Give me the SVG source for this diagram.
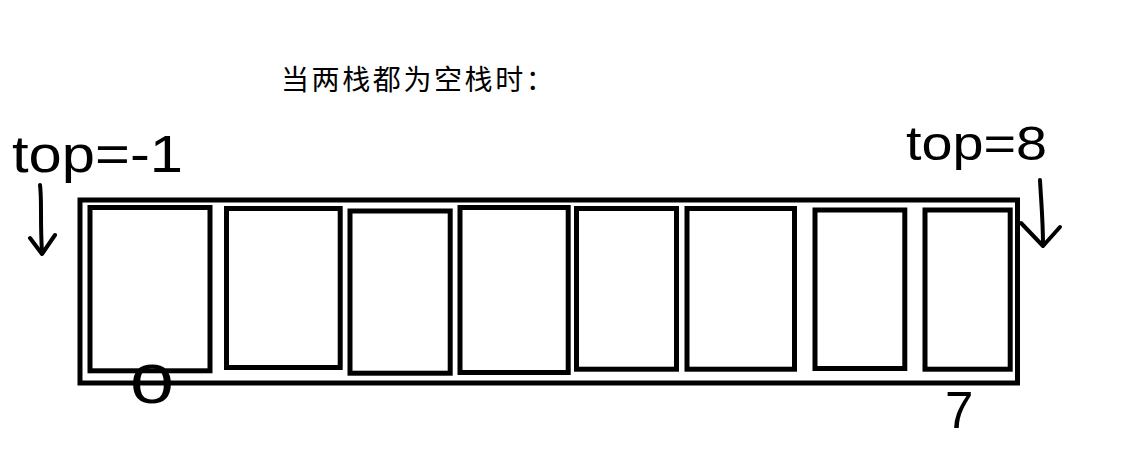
<svg xmlns="http://www.w3.org/2000/svg" width="1129" height="454" viewBox="0 0 1129 454">
<style>
.box{fill:none;stroke:#000;stroke-width:5}
.hand{fill:none;stroke:#000;stroke-width:4;stroke-linecap:round;stroke-linejoin:round}
.title{font-family:"Noto Sans CJK SC","Noto Sans",sans-serif;font-size:28px;fill:#000}
.hw{font-family:"Liberation Sans","DejaVu Sans",sans-serif;fill:#000}
</style>
<rect width="1129" height="454" fill="#fff"/>
<text class="title" x="281" y="90" letter-spacing="2.6">当两栈都为空栈时：</text>
<g id="array">
<rect class="box" x="80" y="200" width="937.5" height="183"/>
</g>
<g id="cell0"><rect class="box" x="90" y="207.5" width="120" height="163.3"/></g>
<g id="cell1"><rect class="box" x="226.5" y="208.5" width="113.7" height="159"/></g>
<g id="cell2"><rect class="box" x="350" y="211" width="100.2" height="162.2"/></g>
<g id="cell3"><rect class="box" x="460" y="207.5" width="108.2" height="165"/></g>
<g id="cell4"><rect class="box" x="576.5" y="208.5" width="100" height="160.7"/></g>
<g id="cell5"><rect class="box" x="687" y="208.5" width="107.5" height="160.7"/></g>
<g id="cell6"><rect class="box" x="815" y="210" width="89.8" height="158.5"/></g>
<g id="cell7"><rect class="box" x="925" y="210" width="85.2" height="159.2"/></g>
<g id="label-top-left"><text class="hw" x="12" y="172" font-size="52" textLength="171" lengthAdjust="spacingAndGlyphs">top=-1</text></g>
<g id="label-top-right"><text class="hw" x="906" y="160" font-size="48" textLength="141" lengthAdjust="spacingAndGlyphs">top=8</text></g>
<g id="label-0"><text class="hw" x="130" y="403" font-size="56" textLength="44" lengthAdjust="spacingAndGlyphs">0</text></g>
<g id="label-7"><text class="hw" x="945" y="428" font-size="51">7</text></g>
<g id="connectors">
<path class="hand" d="M40,185 C42,200 40,220 42,252"/>
<path class="hand" d="M30,238 L42,254 L55,235"/>
<path class="hand" d="M1040,180 C1041,200 1043,220 1043,245"/>
<path class="hand" d="M1021,223 L1043,246 L1060,227"/>
</g>
</svg>
